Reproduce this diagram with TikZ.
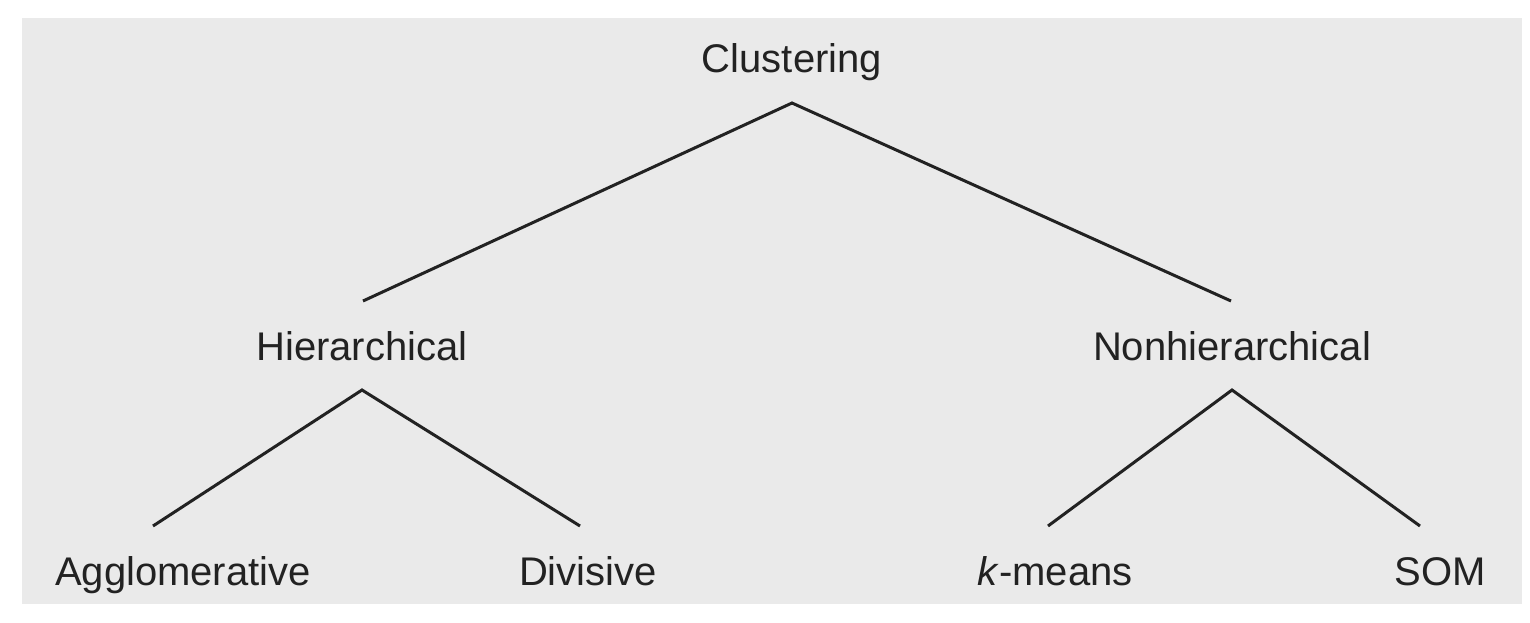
\documentclass[tikz,border=0pt]{standalone}
\usepackage{fontspec}
\setmainfont{Liberation Sans}
\definecolor{bg}{HTML}{EAEAEA}
\definecolor{ink}{HTML}{222222}
\begin{document}
\begin{tikzpicture}[x=1pt,y=-1pt,
  lbl/.style={anchor=base,inner sep=0pt,outer xsep=0pt,outer ysep=30pt,
    text height=29pt,text depth=0pt,font=\fontsize{40}{44}\selectfont,text=ink},
  link/.style={draw=ink,line width=3pt}]
\useasboundingbox (0,0) rectangle (1530,623);
\fill[bg] (22,18) rectangle (1522,604);
\node[lbl] (clus) at (792,73) {Clustering};
\node[lbl] (hier) at (362,360) {Hierarchical};
\node[lbl] (nonh) at (1232,360) {Nonhierarchical};
\node[lbl] (aggl) at (183,585) {Agglomerative};
\node[lbl] (divi) at (588,585) {Divisive};
\node[lbl] (kmea) at (1055,585) {\textit{k}-means};
\node[lbl] (soms) at (1440,585) {SOM};
\draw[link] ([xshift=1pt]hier.north) -- (clus.south) -- ([xshift=-1pt]nonh.north);
\draw[link] ([xshift=-30pt]aggl.north) -- (hier.south) -- ([xshift=-8pt]divi.north);
\draw[link] ([xshift=-7pt]kmea.north) -- (nonh.south) -- ([xshift=-20pt]soms.north);
\end{tikzpicture}
\end{document}
